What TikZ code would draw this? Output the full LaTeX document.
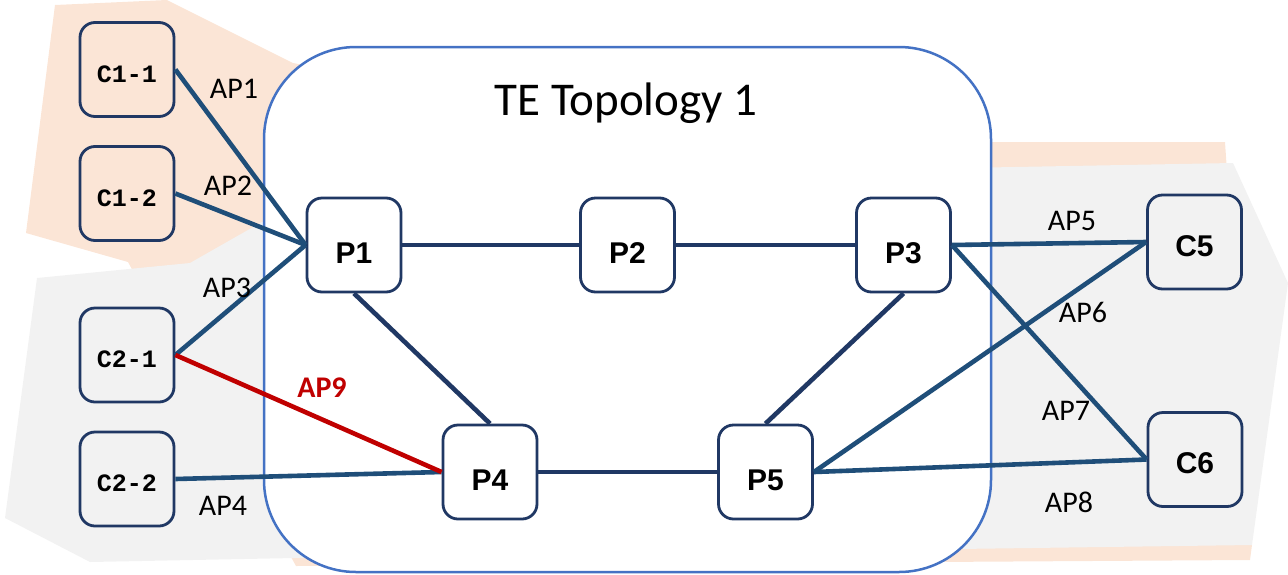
\documentclass[tikz,border=0pt]{standalone}
\usepackage{fontspec}
\setmainfont{Carlito}
\newfontfamily\arialfont{Liberation Sans}
\newfontfamily\courfont{Liberation Mono}
\definecolor{peach}{HTML}{FBE5D6}
\definecolor{lightgrey}{HTML}{F2F2F2}
\definecolor{navy}{HTML}{203864}
\definecolor{steel}{HTML}{1F4E79}
\definecolor{frameblue}{HTML}{4472C4}
\definecolor{apred}{HTML}{C00000}

\begin{document}
\begin{tikzpicture}[x=1pt,y=-1pt,
    pbox/.style={draw=navy,line width=2.8pt,rounded corners=15pt,fill=white,
      minimum width=94pt,minimum height=94pt,inner sep=0pt,text height=36pt,text depth=0pt,
      font=\arialfont\bfseries\fontsize{30}{30}\selectfont},
    cbox/.style={pbox,fill=none,text height=25pt,font=\courfont\bfseries\fontsize{25}{25}\selectfont},
    ebox/.style={pbox,fill=none,text height=28pt},
    link/.style={line width=4.6pt,steel},
    core/.style={line width=4.6pt,navy},
    ap/.style={font=\fontsize{30}{30}\selectfont}]
            \useasboundingbox (0,0) rectangle (1288,574);
            \fill[peach] (55,5) -- (167,0) -- (293,63) -- (700,142) -- (1225,142) -- (1252,545) -- (1250,560) -- (296,566) -- (128,262) -- (26,233) -- cycle;
            \fill[lightgrey] (37,278) -- (190,263) -- (262,222) -- (600,180) -- (960,168) -- (1233,163) -- (1288,283) -- (1252,545) -- (295,558) -- (90,562) -- (5,518) -- cycle;
            \draw[frameblue,line width=2.5pt,fill=white,rounded corners=92pt] (264,47) rectangle (991,572);
            \node[font=\fontsize{47}{47}\selectfont,anchor=base] (title) at (626,115) {TE Topology 1};
            \node[cbox] (c11) at (127,69.5) {C1-1};
            \node[cbox] (c12) at (127,193.5) {C1-2};
            \node[cbox] (c21) at (127,355) {C2-1};
            \node[cbox] (c22) at (127,479) {C2-2};
            \node[pbox] (p1) at (354,245) {P1};
            \node[pbox] (p2) at (627.5,245) {P2};
            \node[pbox] (p3) at (903.5,245) {P3};
            \node[pbox] (p4) at (490,472) {P4};
            \node[pbox] (p5) at (765.5,472) {P5};
            \node[ebox] (c5) at (1194.5,242) {C5};
            \node[ebox] (c6) at (1195,459.5) {C6};
            \draw[core] (p1) -- (p2) -- (p3);
            \draw[core] (p4) -- (p5);
            \draw[core] (p1.south) -- (p4.north);
            \draw[core] (p3.south) -- (p5.north);
            \draw[link] (c11.east) -- (p1.west);
            \draw[link] (c12.east) -- (p1.west);
            \draw[link] (c21.east) -- (p1.west);
            \draw[link] (c22.east) -- (p4.west);
            \draw[line width=4.6pt,apred] (c21.east) -- (p4.west);
            \draw[link] (p3.east) -- (c5.west);
            \draw[link] (p3.east) -- (c6.west);
            \draw[link] (p5.east) -- (c5.west);
            \draw[link] (p5.east) -- (c6.west);
            \node[ap] (ap1) at (234,89) {AP1};
            \node[ap] (ap2) at (228,186) {AP2};
            \node[ap] (ap3) at (227,288) {AP3};
            \node[ap] (ap4) at (223,506) {AP4};
            \node[ap,apred,font=\bfseries\fontsize{30}{30}\selectfont] (ap9) at (322,388) {AP9};
            \node[ap] (ap5) at (1072,221) {AP5};
            \node[ap] (ap6) at (1083,312) {AP6};
            \node[ap] (ap7) at (1066,411) {AP7};
            \node[ap] (ap8) at (1069,502) {AP8};
        \end{tikzpicture}
\end{document}
